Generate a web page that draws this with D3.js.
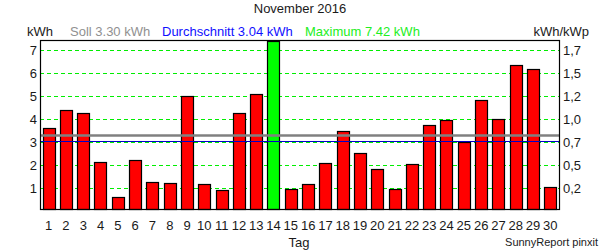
<!DOCTYPE html>
<html>
<head>
<meta charset="utf-8">
<script src="https://cdn.jsdelivr.net/npm/d3@7"></script>
<style>
  body { margin: 0; background: #fff; }
  text { font-family: "Liberation Sans", Arial, sans-serif; }
</style>
</head>
<body>
<div id="chart"></div>
<script>
// Daily yield, November 2016 (kWh)
var days = d3.range(1, 31);
var yieldKwh = [3.61, 4.39, 4.26, 2.13, 0.61, 2.22, 1.26, 1.22, 5.0, 1.17,
                0.91, 4.26, 5.09, 7.42, 0.96, 1.17, 2.09, 3.48, 2.52, 1.83,
                0.96, 2.04, 3.74, 3.96, 3.0, 4.83, 4.0, 6.35, 6.17, 1.04];
var leftTicks = [1, 2, 3, 4, 5, 6, 7];
var rightTickLabels = ["0,2", "0,5", "0,7", "1,0", "1,2", "1,5", "1,7"];
var sollValue = 3.30;
var avgValue = 3.04;
var maxValue = 7.42;

var width = 600, height = 250;
var plot = { left: 40, right: 559, top: 40, bottom: 209 };

var svg = d3.select("#chart").append("svg")
  .attr("width", width)
  .attr("height", height);

var x = d3.scaleBand()
  .domain(days)
  .range([plot.left, plot.right])
  .paddingInner(0.3)
  .paddingOuter(0.15);

// zero sits a little below the frame, as in the original
var y = d3.scaleLinear()
  .domain([0, 7.45])
  .range([211.3, plot.top]);

// dashed grid lines
svg.selectAll("line.grid")
  .data(leftTicks)
  .enter()
  .append("line")
  .attr("class", "grid")
  .attr("x1", plot.left)
  .attr("x2", plot.right)
  .attr("y1", function (d) { return Math.round(y(d)) + 0.5; })
  .attr("y2", function (d) { return Math.round(y(d)) + 0.5; })
  .attr("stroke", "#00ee00")
  .attr("stroke-dasharray", "4,3");

// bars
svg.selectAll("rect.bar")
  .data(yieldKwh)
  .enter()
  .append("rect")
  .attr("class", "bar")
  .attr("x", function (d, i) { return Math.round(x(days[i])) + 0.5; })
  .attr("y", function (d) { return Math.round(y(d)) + 0.5; })
  .attr("width", Math.round(x.bandwidth()))
  .attr("height", function (d) { return plot.bottom - Math.round(y(d)); })
  .attr("fill", function (d) { return d === maxValue ? "#00ff00" : "#ff0000"; })
  .attr("stroke", "#000")
  .attr("stroke-width", 1.2);

// Soll and average lines
svg.append("line")
  .attr("x1", plot.left).attr("x2", plot.right)
  .attr("y1", y(sollValue)).attr("y2", y(sollValue))
  .attr("stroke", "#808080")
  .attr("stroke-width", 2.5);

svg.append("line")
  .attr("x1", plot.left).attr("x2", plot.right)
  .attr("y1", Math.round(y(avgValue)) + 0.5).attr("y2", Math.round(y(avgValue)) + 0.5)
  .attr("stroke", "#0000c8")
  .attr("stroke-width", 1);

// frame
svg.append("rect")
  .attr("x", plot.left + 0.5)
  .attr("y", plot.top + 0.5)
  .attr("width", plot.right - plot.left)
  .attr("height", plot.bottom - plot.top)
  .attr("fill", "none")
  .attr("stroke", "#000")
  .attr("stroke-width", 1.2);

// left axis labels
svg.selectAll("text.ly")
  .data(leftTicks)
  .enter()
  .append("text")
  .attr("class", "ly")
  .attr("x", 37)
  .attr("y", function (d) { return y(d); })
  .attr("dy", "0.35em")
  .attr("text-anchor", "end")
  .style("font-size", "13px")
  .attr("fill", "#1a1a1a")
  .text(function (d) { return d; });

// right axis labels
svg.selectAll("text.ry")
  .data(leftTicks)
  .enter()
  .append("text")
  .attr("class", "ry")
  .attr("x", 563)
  .attr("y", function (d) { return y(d); })
  .attr("dy", "0.35em")
  .style("font-size", "13px")
  .attr("fill", "#1a1a1a")
  .text(function (d, i) { return rightTickLabels[i]; });

// day labels
svg.selectAll("text.day")
  .data(days)
  .enter()
  .append("text")
  .attr("class", "day")
  .attr("x", function (d) { return x(d) + x.bandwidth() / 2; })
  .attr("y", 225)
  .attr("dy", "0.35em")
  .attr("text-anchor", "middle")
  .style("font-size", "13px")
  .attr("fill", "#1a1a1a")
  .text(function (d) { return d; });

// title and header
svg.append("text")
  .attr("x", 300).attr("y", 13)
  .attr("text-anchor", "middle")
  .style("font-size", "13px")
  .attr("fill", "#1a1a1a")
  .text("November 2016");

var header = [
  { x: 27, text: "kWh", color: "#1a1a1a" },
  { x: 70, text: "Soll " + sollValue.toFixed(2) + " kWh", color: "#909090" },
  { x: 162, text: "Durchschnitt " + avgValue.toFixed(2) + " kWh", color: "#1010ff" },
  { x: 305, text: "Maximum " + maxValue.toFixed(2) + " kWh", color: "#22ee22" }
];
svg.selectAll("text.hdr")
  .data(header)
  .enter()
  .append("text")
  .attr("class", "hdr")
  .attr("x", function (d) { return d.x; })
  .attr("y", 36)
  .style("font-size", "13px")
  .attr("fill", function (d) { return d.color; })
  .text(function (d) { return d.text; });

svg.append("text")
  .attr("x", 589).attr("y", 36)
  .attr("text-anchor", "end")
  .style("font-size", "13px")
  .attr("fill", "#1a1a1a")
  .text("kWh/kWp");

svg.append("text")
  .attr("x", 299).attr("y", 247)
  .attr("text-anchor", "middle")
  .style("font-size", "13px")
  .attr("fill", "#1a1a1a")
  .text("Tag");

svg.append("text")
  .attr("x", 598).attr("y", 246)
  .attr("text-anchor", "end")
  .style("font-size", "11px")
  .attr("fill", "#1a1a1a")
  .text("SunnyReport pinxit");
</script>
</body>
</html>
